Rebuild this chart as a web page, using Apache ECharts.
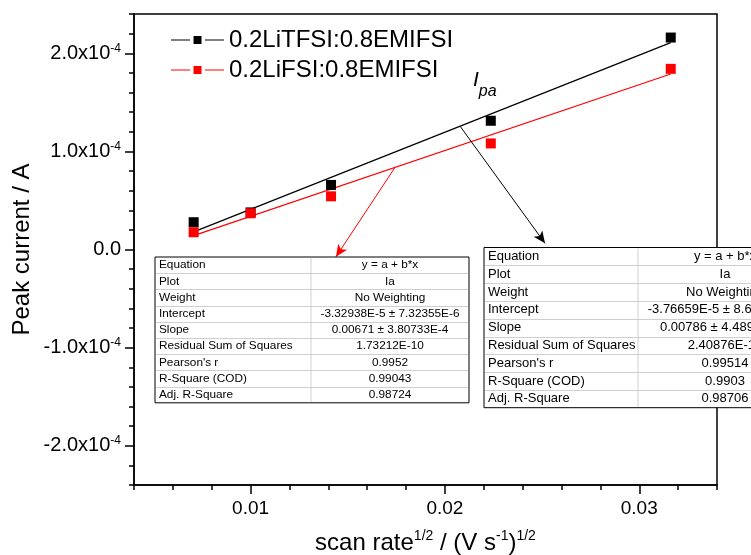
<!DOCTYPE html>
<html>
<head>
<meta charset="utf-8">
<script src="https://cdn.jsdelivr.net/npm/echarts@6/dist/echarts.min.js"></script>
<style>
  html, body { margin: 0; padding: 0; background: #fff; }
  #chart { width: 751px; height: 555px; }
</style>
</head>
<body>
<div id="chart"></div>
<script>
// scan rate^1/2 (V/s)^1/2
const scanRateSqrt = [0.00707, 0.01, 0.01414, 0.02236, 0.03162];
const seriesNames = ['0.2LiTFSI:0.8EMIFSI', '0.2LiFSI:0.8EMIFSI'];
const seriesColors = ['#000000', '#ff0000'];
// peak current / A
const peakTFSI = [2.78e-5, 3.78e-5, 6.58e-5, 1.312e-4, 2.16e-4];
const peakFSI = [1.76e-5, 3.69e-5, 5.42e-5, 1.081e-4, 1.841e-4];
// linear fit y = a + b*x
const fitIntercept = [-3.76659e-5, -3.32938e-5];
const fitSlope = [0.00786, 0.00671];
// where the pointer arrows leave the fit lines, and where they end
const arrowFromX = [0.02078, 0.01743];
const arrowTip = [[0.02515, 6.3e-6], [0.014395, -7.4e-6]];

const xMajor = [0.01, 0.02, 0.03];
const yMajor = [-2e-4, -1e-4, 0, 1e-4, 2e-4];

const tableRows = ['Equation', 'Plot', 'Weight', 'Intercept', 'Slope',
  'Residual Sum of Squares', "Pearson's r", 'R-Square (COD)', 'Adj. R-Square'];
const tableFSI = ['y = a + b*x', 'Ia', 'No Weighting', '-3.32938E-5 \u00b1 7.32355E-6',
  '0.00671 \u00b1 3.80733E-4', '1.73212E-10', '0.9952', '0.99043', '0.98724'];
// right table is cut by the picture edge, hidden part kept as figure spaces
const tableTFSI = ['y = a + b*x', 'Ia', 'No Weighting',
  '-3.76659E-5 \u00b1 8.63\u2007\u2007\u2007\u2007\u2007\u2007',
  '0.00786 \u00b1 4.4898\u2007\u2007\u2007\u2007', '2.40876E-10', '0.99514', '0.9903', '0.98706'];

const FONT = "'Liberation Sans', Arial, sans-serif";

// minor ticks
const xMinor = [];
for (let i = 2; i <= 17; i++) xMinor.push(+(i * 0.002).toFixed(4));
const yMinor = [];
for (let i = -12; i <= 12; i++) yMinor.push(+(i * 2e-5).toExponential(2));

const chart = echarts.init(document.getElementById('chart'), null, { renderer: 'canvas' });

function fitLine(k) {
  const x0 = scanRateSqrt[0], x1 = scanRateSqrt[scanRateSqrt.length - 1];
  return [[x0, fitIntercept[k] + fitSlope[k] * x0], [x1, fitIntercept[k] + fitSlope[k] * x1]];
}

function arrowLine(k) {
  const x = arrowFromX[k];
  return [[{ coord: [x, fitIntercept[k] + fitSlope[k] * x] }, { coord: arrowTip[k] }]];
}

// fit table as graphic elements
function buildTable(left, top, colW, col2W, rowH, fontSize, values) {
  const els = [];
  const w = colW + col2W, h = rowH * tableRows.length;
  els.push({ type: 'rect', z: 100, shape: { x: left, y: top, width: w, height: h },
    style: { fill: '#fff', stroke: '#000', lineWidth: 1 } });
  for (let i = 1; i < tableRows.length; i++) {
    const y = Math.round(top + i * rowH) + 0.5;
    els.push({ type: 'line', z: 101, shape: { x1: left + 1, y1: y, x2: left + w - 1, y2: y },
      style: { stroke: '#cfcfcf', lineWidth: 1 } });
  }
  els.push({ type: 'line', z: 101, shape: { x1: left + colW, y1: top + 1, x2: left + colW, y2: top + h - 1 },
    style: { stroke: '#cfcfcf', lineWidth: 1 } });
  tableRows.forEach((r, i) => {
    const cy = top + (i + 0.5) * rowH;
    els.push({ type: 'text', z: 102, x: left + 4, y: cy,
      style: { text: r, fill: '#000', font: fontSize + 'px ' + FONT, align: 'left', verticalAlign: 'middle' } });
    els.push({ type: 'text', z: 102, x: left + colW + col2W / 2, y: cy,
      style: { text: values[i], fill: '#000', font: fontSize + 'px ' + FONT, align: 'center', verticalAlign: 'middle' } });
  });
  return els;
}

const legendIcon = 'path://M0,3.5L19,3.5L19,4.5L0,4.5Z M34,3.5L53,3.5L53,4.5L34,4.5Z M22.5,0L30.5,0L30.5,8L22.5,8Z';

const option = {
  animation: false,
  backgroundColor: '#fff',
  grid: { left: 134, top: 14, right: 34, bottom: 70, show: true, borderColor: '#000', borderWidth: 1.5,
    outerBoundsMode: 'none', containLabel: false },
  legend: {
    orient: 'vertical', left: 166, top: 23, itemGap: 6,
    itemWidth: 53, itemHeight: 8, icon: legendIcon,
    textStyle: { fontSize: 24, fontFamily: FONT, color: '#000', padding: [0, 0, 0, 0] },
    data: seriesNames.map(n => ({ name: n, icon: legendIcon }))
  },
  xAxis: [{
    type: 'value', min: 0.004, max: 0.034,
    axisLine: { onZero: false, lineStyle: { color: '#000', width: 1.5 } },
    axisTick: { inside: false, length: 9, customValues: xMajor, lineStyle: { color: '#000', width: 1.5 } },
    axisLabel: { customValues: xMajor, margin: 14, fontSize: 19, fontFamily: FONT, color: '#000',
      formatter: v => v.toFixed(2) },
    splitLine: { show: false },
    name: 'scan rate{s|1/2} / (V s{s|-1}){s|1/2}', nameLocation: 'middle', nameGap: 44,
    nameMoveOverlap: false,
    nameTextStyle: { fontSize: 24, fontFamily: FONT, color: '#000', lineHeight: 28,
      rich: { s: { fontSize: 14, fontFamily: FONT, verticalAlign: 'top', lineHeight: 14, color: '#000' } } }
  }, {
    type: 'value', min: 0.004, max: 0.034, position: 'bottom',
    axisLine: { show: false, onZero: false },
    axisTick: { inside: false, length: 5, customValues: xMinor, lineStyle: { color: '#000', width: 1.5 } },
    axisLabel: { show: false }, splitLine: { show: false }
  }],
  yAxis: [{
    type: 'value', min: -2.4e-4, max: 2.4e-4,
    axisLine: { show: true, onZero: false, lineStyle: { color: '#000', width: 1.5 } },
    axisTick: { show: true, inside: false, length: 9, customValues: yMajor, lineStyle: { color: '#000', width: 1.5 } },
    axisLabel: {
      customValues: yMajor, margin: 13, fontSize: 20, fontFamily: FONT, color: '#000', lineHeight: 22,
      formatter: v => Math.abs(v) < 1e-12 ? '0.0' : (v * 1e4).toFixed(1) + 'x10{s|-4}',
      rich: { s: { fontSize: 12, fontFamily: FONT, verticalAlign: 'top', lineHeight: 12, color: '#000' } }
    },
    splitLine: { show: false },
    name: 'Peak current / A', nameLocation: 'middle', nameGap: 100, nameMoveOverlap: false,
    nameTextStyle: { fontSize: 24, fontFamily: FONT, color: '#000' }
  }, {
    type: 'value', min: -2.4e-4, max: 2.4e-4, position: 'left',
    axisLine: { show: false, onZero: false },
    axisTick: { show: true, inside: false, length: 5, customValues: yMinor, lineStyle: { color: '#000', width: 1.5 } },
    axisLabel: { show: false }, splitLine: { show: false }
  }],
  series: [
    {
      name: 'fitTFSI', type: 'line', data: fitLine(0), symbol: 'none', silent: true, z: 2,
      lineStyle: { color: seriesColors[0], width: 1.2 },
      markLine: { silent: true, symbol: ['none', 'arrow'], symbolSize: [8, 12], label: { show: false },
        lineStyle: { color: seriesColors[0], width: 1, type: 'solid' }, data: arrowLine(0) }
    },
    {
      name: 'fitFSI', type: 'line', data: fitLine(1), symbol: 'none', silent: true, z: 2,
      lineStyle: { color: seriesColors[1], width: 1.2 },
      markLine: { silent: true, symbol: ['none', 'arrow'], symbolSize: [8, 12], label: { show: false },
        lineStyle: { color: seriesColors[1], width: 1, type: 'solid' }, data: arrowLine(1) }
    },
    {
      name: seriesNames[0], type: 'scatter', symbol: 'rect', symbolSize: 10, z: 3,
      itemStyle: { color: seriesColors[0], opacity: 1 },
      data: scanRateSqrt.map((x, i) => [x, peakTFSI[i]])
    },
    {
      name: seriesNames[1], type: 'scatter', symbol: 'rect', symbolSize: 10, z: 4,
      itemStyle: { color: seriesColors[1], opacity: 1 },
      data: scanRateSqrt.map((x, i) => [x, peakFSI[i]])
    }
  ],
  graphic: [
    { type: 'text', z: 100, x: 473, y: 70,
      style: { text: '{i|I}{s|pa}', fill: '#000',
        rich: { i: { fontSize: 21, fontStyle: 'italic', fontFamily: FONT, verticalAlign: 'top', lineHeight: 20 },
                s: { fontSize: 16, fontStyle: 'italic', fontFamily: FONT, verticalAlign: 'bottom', lineHeight: 30 } } } }
  ].concat(
    buildTable(155, 257, 156, 158, 16.2, 11.8, tableFSI),
    buildTable(484, 247.5, 154, 174, 17.8, 13, tableTFSI)
  )
};

chart.setOption(option);
</script>
</body>
</html>
